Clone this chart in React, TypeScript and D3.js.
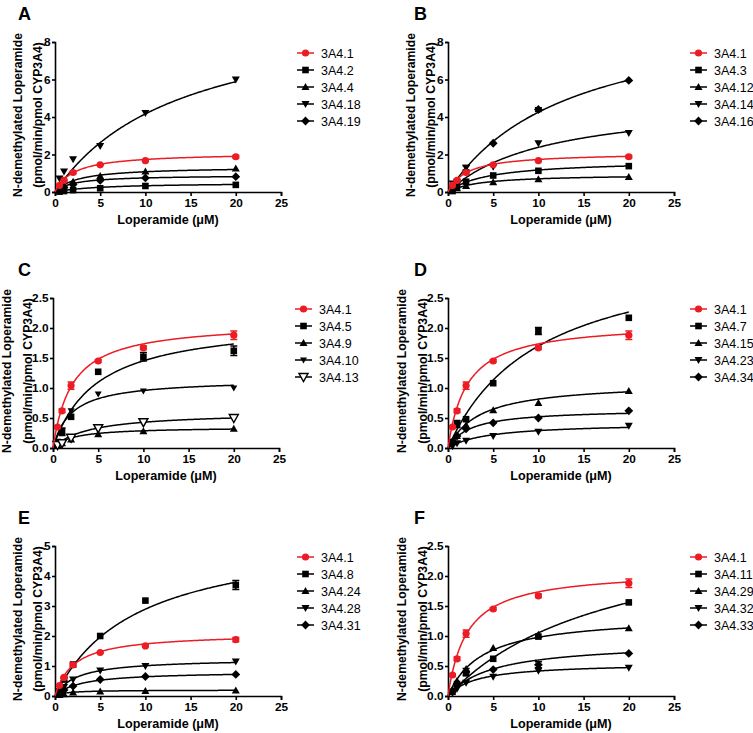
import React, { useEffect, useRef } from "react";
import * as d3 from "d3";

// ---------- data ----------
const concentrations = [0.5, 1, 2, 5, 10, 20];
const xTicks = [0, 5, 10, 15, 20, 25];
const panelLetters = ["A", "B", "C", "D", "E", "F"];
const yMax = [8, 8, 2.5, 2.5, 5, 2.5];
const yTicks = [
  [0, 2, 4, 6, 8],
  [0, 2, 4, 6, 8],
  [0, 0.5, 1, 1.5, 2, 2.5],
  [0, 0.5, 1, 1.5, 2, 2.5],
  [0, 1, 2, 3, 4, 5],
  [0, 0.5, 1, 1.5, 2, 2.5],
];
const yDecimals = [0, 0, 1, 1, 0, 1];

const wildType = [0.35, 0.62, 1.04, 1.45, 1.67, 1.88];
const wildTypeErr = [0.02, 0.03, 0.06, 0.02, 0.03, 0.07];
const wildTypeFit = [2.1, 2.1]; // Vmax, Km
const none = [0, 0, 0, 0, 0, 0];

const namesA = ["3A4.1", "3A4.2", "3A4.4", "3A4.18", "3A4.19"];
const valuesA = [
  wildType,
  [0.02, 0.05, 0.1, 0.2, 0.32, 0.38],
  [0.2, 0.35, 0.55, 0.85, 1.1, 1.25],
  [0.72, 1.1, 1.75, 2.45, 4.22, 6.0],
  [0.12, 0.25, 0.4, 0.62, 0.75, 0.82],
];
const errorsA = [wildTypeErr, none, none, none, none];
const fitsA = [wildTypeFit, [0.5, 5], [1.35, 2.5], [10, 14], [0.9, 2]];

const namesB = ["3A4.1", "3A4.3", "3A4.12", "3A4.14", "3A4.16"];
const valuesB = [
  wildType,
  [0.05, 0.3, 0.55, 0.88, 1.13, 1.38],
  [0.1, 0.2, 0.32, 0.52, 0.68, 0.8],
  [0.45, 0.55, 1.3, 1.35, 2.6, 3.15],
  [0.3, 0.55, 1.1, 2.6, 4.4, 5.95],
];
const errorsB = [wildTypeErr, none, none, [0, 0, 0.12, 0, 0, 0], [0, 0, 0, 0, 0.1, 0]];
const fitsB = [wildTypeFit, [1.7, 4.5], [0.95, 3.5], [5, 11], [10, 13.5]];

const namesC = ["3A4.1", "3A4.5", "3A4.9", "3A4.10", "3A4.13"];
const valuesC = [
  wildType,
  [0.1, 0.27, 0.52, 1.27, 1.52, 1.62],
  [0.05, 0.08, 0.14, 0.23, 0.28, 0.32],
  [0.1, 0.3, 0.62, 0.9, 0.95, 1.0],
  [0.05, 0.08, 0.17, 0.33, 0.43, 0.5],
];
const errorsC = [wildTypeErr, [0, 0.06, 0, 0, 0.07, 0.08], none, none, none];
const fitsC = [wildTypeFit, [2.15, 4.8], [0.35, 2.2], [1.15, 2], [0.6, 4]];

const namesD = ["3A4.1", "3A4.7", "3A4.15", "3A4.23", "3A4.34"];
const valuesD = [
  wildType,
  [0.1, 0.4, 0.48, 1.08, 1.95, 2.17],
  [0.1, 0.2, 0.38, 0.63, 0.75, 0.95],
  [0.03, 0.08, 0.12, 0.2, 0.27, 0.37],
  [0.1, 0.2, 0.32, 0.42, 0.5, 0.62],
];
const errorsD = [wildTypeErr, [0, 0.06, 0, 0, 0.06, 0], none, none, none];
const fitsD = [wildTypeFit, [3.4, 10], [1.1, 3.5], [0.42, 4.5], [0.65, 2.5]];

const namesE = ["3A4.1", "3A4.8", "3A4.24", "3A4.28", "3A4.31"];
const valuesE = [
  wildType,
  [0.15, 0.55, 1.05, 2.0, 3.18, 3.7],
  [0.03, 0.06, 0.12, 0.15, 0.17, 0.18],
  [0.15, 0.3, 0.55, 0.85, 1.0, 1.15],
  [0.1, 0.2, 0.33, 0.55, 0.65, 0.72],
];
const errorsE = [wildTypeErr, [0, 0.05, 0, 0, 0, 0.15], none, none, none];
const fitsE = [wildTypeFit, [5.5, 9], [0.2, 1.2], [1.25, 2.4], [0.82, 2.8]];

const namesF = ["3A4.1", "3A4.11", "3A4.29", "3A4.32", "3A4.33"];
const valuesF = [
  wildType,
  [0.07, 0.2, 0.38, 0.62, 0.99, 1.56],
  [0.1, 0.25, 0.45, 0.8, 1.02, 1.13],
  [0.05, 0.12, 0.22, 0.32, 0.42, 0.47],
  [0.08, 0.2, 0.4, 0.44, 0.52, 0.71],
];
const errorsF = [wildTypeErr, none, none, none, [0, 0, 0.06, 0, 0.05, 0]];
const fitsF = [wildTypeFit, [3.0, 18.5], [1.35, 3.8], [0.55, 3.2], [0.9, 5]];

// ---------- styling / layout ----------
const RED = "#ec1c24";
const FONT = "'Liberation Sans', Arial, Helvetica, sans-serif";
const markersStd = ["circle", "square", "triangle", "down", "diamond"];
const markersC = ["circle", "square", "triangle", "downSmall", "downOpen"];
const panelLeft = [55, 448, 53, 448, 55, 448];
const panelTop = [42, 42, 298, 298, 546, 546];
const PW = 226;
const PH = 150;

const panels = [
  { names: namesA, values: valuesA, errors: errorsA, fits: fitsA, markers: markersStd },
  { names: namesB, values: valuesB, errors: errorsB, fits: fitsB, markers: markersStd },
  { names: namesC, values: valuesC, errors: errorsC, fits: fitsC, markers: markersC },
  { names: namesD, values: valuesD, errors: errorsD, fits: fitsD, markers: markersStd },
  { names: namesE, values: valuesE, errors: errorsE, fits: fitsE, markers: markersStd },
  { names: namesF, values: valuesF, errors: errorsF, fits: fitsF, markers: markersStd },
];

function markerPath(type: string): string {
  switch (type) {
    case "circle":
      return "M3.6,0A3.6,3.6 0 1,1 -3.6,0A3.6,3.6 0 1,1 3.6,0Z";
    case "square":
      return "M-3.3,-3.3H3.3V3.3H-3.3Z";
    case "triangle":
      return "M0,-4L4,3L-4,3Z";
    case "down":
      return "M-4,-3L4,-3L0,4Z";
    case "downSmall":
      return "M-3.5,-2.6L3.5,-2.6L0,3.6Z";
    case "downOpen":
      return "M-4.5,-3.5L4.5,-3.5L0,4.5Z";
    case "diamond":
      return "M0,-4.4L4.4,0L0,4.4L-4.4,0Z";
  }
  return "";
}

export default function App() {
  const ref = useRef<SVGSVGElement | null>(null);

  useEffect(() => {
    document.body.style.margin = "0";
    const svg = d3.select(ref.current);
    svg.selectAll("*").remove();

    panels.forEach((p, pi) => {
      const left = panelLeft[pi];
      const top = panelTop[pi];
      const x = d3.scaleLinear().domain([0, 25]).range([0, PW]);
      const y = d3.scaleLinear().domain([0, yMax[pi]]).range([PH, 0]);
      const g = svg.append("g").attr("transform", `translate(${left},${top})`);

      // panel letter
      svg
        .append("text")
        .attr("x", pi % 2 === 0 ? 18 : 414)
        .attr("y", top - 22)
        .attr("font-family", FONT)
        .attr("font-weight", "bold")
        .attr("font-size", 18)
        .text(panelLetters[pi]);

      // axes
      const fmt = d3.format(yDecimals[pi] ? ".1f" : "d");
      const yAxis = d3
        .axisLeft(y)
        .tickValues(yTicks[pi])
        .tickFormat((d: any) => fmt(d))
        .tickSize(3)
        .tickPadding(1.5);
      const xAxis = d3
        .axisBottom(x)
        .tickValues(xTicks)
        .tickFormat((d: any) => String(d))
        .tickSize(4)
        .tickPadding(3);

      const ya = g.append("g").call(yAxis);
      const xa = g.append("g").attr("transform", `translate(0,${PH})`).call(xAxis);
      [ya, xa].forEach((a) => {
        a.select(".domain").attr("stroke", "#000").attr("stroke-width", 1.6);
        a.selectAll(".tick line").attr("stroke", "#000").attr("stroke-width", 1.6);
        a.selectAll(".tick text")
          .attr("font-family", FONT)
          .attr("font-weight", "bold")
          .attr("font-size", 11.8)
          .attr("fill", "#000");
      });

      // axis titles
      g.append("text")
        .attr("x", PW / 2)
        .attr("y", PH + 32)
        .attr("text-anchor", "middle")
        .attr("font-family", FONT)
        .attr("font-weight", "bold")
        .attr("font-size", 12.6)
        .text("Loperamide (\u03bcM)");
      const wide = yDecimals[pi] ? 1 : 0;
      g.append("text")
        .attr("transform", `translate(${wide ? -42 : -33},${PH / 2 - 2}) rotate(-90)`)
        .attr("text-anchor", "middle")
        .attr("font-family", FONT)
        .attr("font-weight", "bold")
        .attr("font-size", 12.2)
        .text("N-demethylated Loperamide");
      g.append("text")
        .attr("transform", `translate(${wide ? -21 : -13},${PH / 2 - 2}) rotate(-90)`)
        .attr("text-anchor", "middle")
        .attr("font-family", FONT)
        .attr("font-weight", "bold")
        .attr("font-size", 12.2)
        .text("(pmol/min/pmol CYP3A4)");

      // series (draw black first, red on top)
      const order = d3.range(p.names.length).slice(1).concat([0]);
      order.forEach((si) => {
        const color = si === 0 ? RED : "#000";
        const [vmax, km] = p.fits[si];
        const curveX = d3.range(0, 20.001, 0.1);
        const line = d3
          .line<number>()
          .x((s) => x(s))
          .y((s) => y((vmax * s) / (km + s)));
        g.append("path")
          .attr("d", line(curveX) as string)
          .attr("fill", "none")
          .attr("stroke", color)
          .attr("stroke-width", 1.5);

        const vals = p.values[si];
        const errs = p.errors[si];
        concentrations.forEach((c, i) => {
          const e = errs[i];
          if (e > 0) {
            const cx = x(c);
            g.append("path")
              .attr(
                "d",
                `M${cx},${y(vals[i] - e)}V${y(vals[i] + e)}M${cx - 3.5},${y(vals[i] - e)}H${cx + 3.5}M${cx - 3.5},${y(vals[i] + e)}H${cx + 3.5}`
              )
              .attr("stroke", color)
              .attr("stroke-width", 1.5)
              .attr("fill", "none");
          }
        });
        const mk = p.markers[si];
        concentrations.forEach((c, i) => {
          g.append("path")
            .attr("transform", `translate(${x(c)},${y(vals[i])})`)
            .attr("d", markerPath(mk))
            .attr("fill", mk === "downOpen" ? "#fff" : color)
            .attr("stroke", mk === "downOpen" ? "#000" : "none")
            .attr("stroke-width", 1.4);
        });
      });

      // legend
      const lg = g.append("g").attr("transform", `translate(${PW + 16},${11})`);
      p.names.forEach((name, si) => {
        const color = si === 0 ? RED : "#000";
        const row = lg.append("g").attr("transform", `translate(0,${si * 17})`);
        row
          .append("line")
          .attr("x1", 0)
          .attr("x2", 17)
          .attr("stroke", color)
          .attr("stroke-width", 1.5);
        const mk = p.markers[si];
        row
          .append("path")
          .attr("transform", `translate(8.5,0)`)
          .attr("d", markerPath(mk))
          .attr("fill", mk === "downOpen" ? "#fff" : color)
          .attr("stroke", mk === "downOpen" ? "#000" : "none")
          .attr("stroke-width", 1.4);
        row
          .append("text")
          .attr("x", 24)
          .attr("y", 4.5)
          .attr("font-family", FONT)
          .attr("font-size", 12.5)
          .text(name);
      });
    });
  }, []);

  return <svg ref={ref} width={753} height={733} style={{ display: "block", background: "#fff" }} />;
}
